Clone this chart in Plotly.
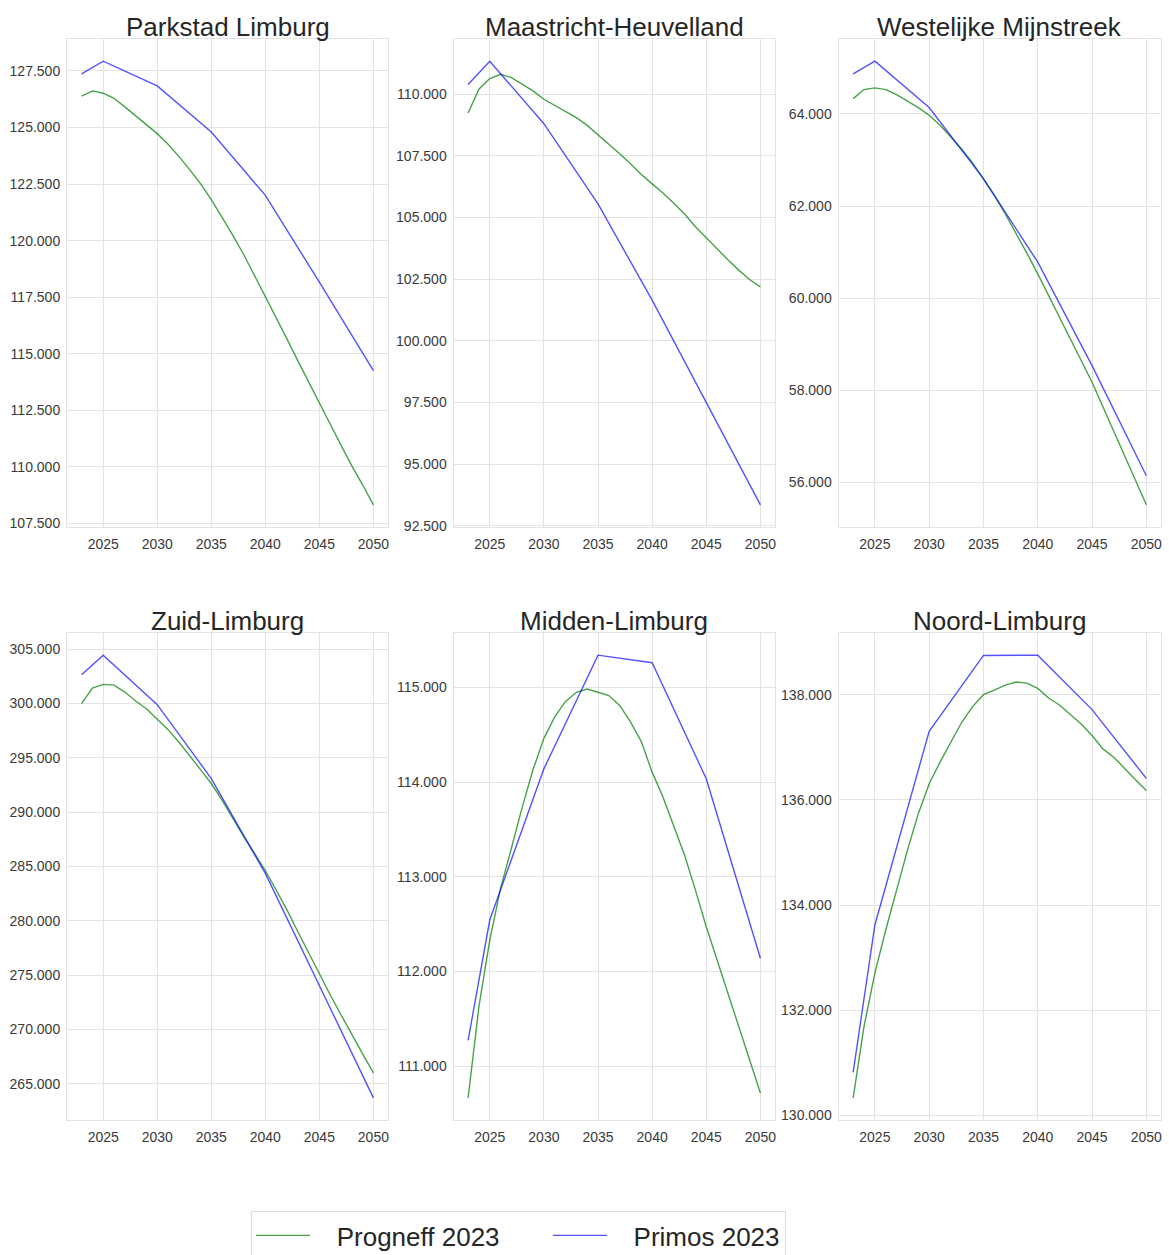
import plotly.graph_objects as go

# Years covered by the two forecasts
years_progneff = list(range(2023, 2051))
years_primos = [2023, 2025, 2030, 2035, 2040, 2045, 2050]

# Progneff 2023 (yearly) per region
progneff_parkstad = [126379, 126615, 126512, 126290, 125907, 125524, 125140, 124727, 124255, 123724,
                     123134, 122515, 121807, 121040, 120229, 119388, 118459, 117560, 116615, 115657,
                     114698, 113739, 112810, 111895, 110966, 110050, 109211, 108326]
progneff_maastricht = [109241, 110203, 110637, 110813, 110678, 110407, 110136, 109797, 109553, 109282,
                       109051, 108739, 108360, 107994, 107587, 107180, 106747, 106367, 106001, 105581,
                       105147, 104632, 104171, 103724, 103290, 102870, 102490, 102192]
progneff_westelijke = [64333, 64529, 64565, 64529, 64420, 64275, 64138, 63971, 63754, 63500,
                       63232, 62935, 62594, 62232, 61833, 61420, 60978, 60529, 60058, 59587,
                       59116, 58645, 58174, 57645, 57116, 56580, 56051, 55514]
progneff_zuid = [299981, 301419, 301756, 301695, 301052, 300226, 299522, 298604, 297594, 296461,
                 295237, 293921, 292636, 291106, 289422, 287739, 286209, 284617, 282842, 281006,
                 279017, 277028, 275038, 273202, 271366, 269530, 267754, 266009]
progneff_midden = [110667, 111632, 112333, 112878, 113302, 113736, 114132, 114462, 114688, 114851,
                   114948, 114983, 114948, 114913, 114809, 114635, 114427, 114105, 113842, 113544,
                   113228, 112860, 112474, 112123, 111772, 111421, 111070, 110719]
progneff_noord = [130335, 131694, 132705, 133526, 134284, 135043, 135738, 136306, 136717, 137096,
                  137476, 137773, 138000, 138088, 138183, 138240, 138221, 138120, 137937, 137804,
                  137633, 137444, 137223, 136970, 136812, 136591, 136382, 136180]

# Primos 2023 (five-year steps) per region
primos_parkstad = [127367, 127928, 126836, 124801, 121999, 118164, 114255]
primos_maastricht = [110393, 111342, 108807, 105554, 101650, 97500, 93354]
primos_westelijke = [64870, 65145, 64138, 62594, 60783, 58536, 56145]
primos_zuid = [302643, 304449, 299889, 293095, 284373, 274120, 263715]
primos_midden = [111274, 112544, 114140, 115340, 115260, 114035, 112140]
primos_noord = [130821, 133621, 137305, 138746, 138752, 137716, 136408]

region_names = ["Parkstad Limburg", "Maastricht-Heuvelland", "Westelijke Mijnstreek",
                "Zuid-Limburg", "Midden-Limburg", "Noord-Limburg"]
progneff_series = [progneff_parkstad, progneff_maastricht, progneff_westelijke,
                   progneff_zuid, progneff_midden, progneff_noord]
primos_series = [primos_parkstad, primos_maastricht, primos_westelijke,
                 primos_zuid, primos_midden, primos_noord]
y_steps = [2500, 2500, 2000, 5000, 1000, 2000]
x_ticks = [2025, 2030, 2035, 2040, 2045, 2050]

W, H = 1169, 1255
FONT = "Liberation Sans, Arial, Helvetica, sans-serif"
GREEN = "rgba(0,128,0,0.72)"
BLUE = "rgba(0,0,255,0.68)"
GRID = "#e3e3e3"
NB = "\u00a0"  # non-breaking space used to pad legend labels

# panel placement in pixels: (left, right) per column, (top, bottom) per row
col_px = [(67, 388), (453.5, 775), (838.5, 1161)]
row_px = [(39, 527), (633, 1120)]

fig = go.Figure()
layout = dict(
    width=W, height=H,
    margin=dict(l=0, r=0, t=0, b=0, autoexpand=False),
    paper_bgcolor="white", plot_bgcolor="white",
    separators=",.",
    font=dict(family=FONT, color="#333333"),
    showlegend=True,
    annotations=[],
)

x_lo = 2023 - 0.05 * (2050 - 2023)
x_hi = 2050 + 0.05 * (2050 - 2023)

for i, name in enumerate(region_names):
    r, c = divmod(i, 3)
    n = "" if i == 0 else str(i + 1)
    xa, ya = "x" + n, "y" + n
    pg, pm = progneff_series[i], primos_series[i]

    fig.add_trace(go.Scatter(x=years_progneff, y=pg, mode="lines",
                             name=NB * 3 + "Progneff 2023" + NB * 6,
                             line=dict(color=GREEN, width=1.4), xaxis=xa, yaxis=ya,
                             showlegend=(i == 0), legendgroup="p"))
    fig.add_trace(go.Scatter(x=years_primos, y=pm, mode="lines",
                             name=NB * 3 + "Primos 2023",
                             line=dict(color=BLUE, width=1.4), xaxis=xa, yaxis=ya,
                             showlegend=(i == 0), legendgroup="m"))

    lo = min(min(pg), min(pm))
    hi = max(max(pg), max(pm))
    pad = 0.05 * (hi - lo)

    left, right = col_px[c]
    top, bottom = row_px[r]
    xdom = [left / W, right / W]
    ydom = [1 - bottom / H, 1 - top / H]

    axis_common = dict(showgrid=True, gridcolor=GRID, gridwidth=1, showline=True, linecolor=GRID,
                       linewidth=1, mirror=True, ticks="", zeroline=False,
                       tickfont=dict(size=14, color="#3a3a3a", family=FONT))
    layout["xaxis" + n] = dict(axis_common, domain=xdom, anchor=ya, range=[x_lo, x_hi],
                               tickvals=x_ticks, ticklabelstandoff=4)
    layout["yaxis" + n] = dict(axis_common, domain=ydom, anchor=xa, range=[lo - pad, hi + pad],
                               tick0=0, dtick=y_steps[i], tickformat=",d", ticklabelstandoff=3)

    layout["annotations"].append(dict(
        text=name, xref="paper", yref="paper", x=(left + right) / 2 / W,
        y=1 - (top - 12) / H, xanchor="center", yanchor="middle", showarrow=False,
        font=dict(size=26, color="#262626", family=FONT)))

layout["legend"] = dict(
    orientation="h", x=251 / W, xanchor="left", y=1 - 1211 / H, yanchor="top",
    bgcolor="white", bordercolor="#dcdcdc", borderwidth=1,
    font=dict(size=26, color="#262626", family=FONT),
    itemwidth=54, tracegroupgap=0,
)

fig.update_layout(**layout)
fig.write_html("out.html")
